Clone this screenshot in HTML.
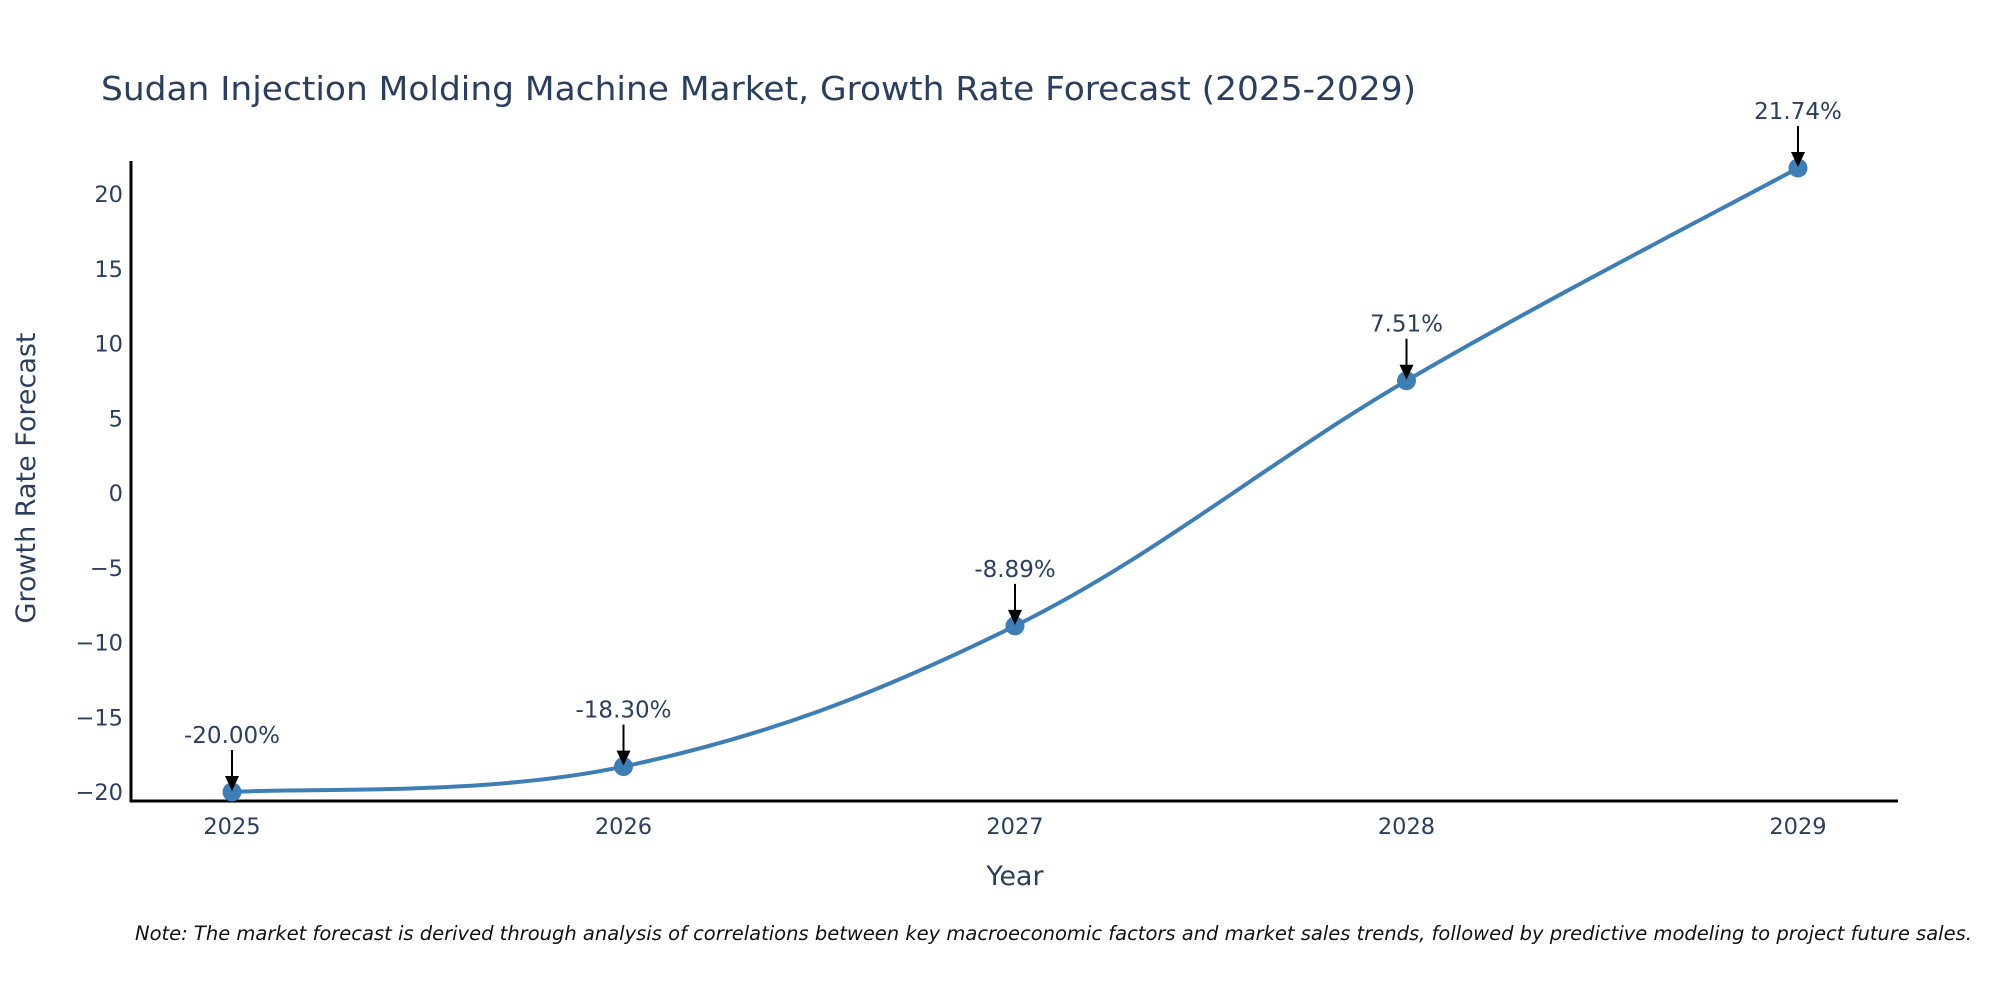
<!DOCTYPE html>
<html><head><meta charset="utf-8"><style>
html,body{margin:0;padding:0;background:#fff;}
svg{display:block;font-family:"DejaVu Sans","Liberation Sans",sans-serif;}
</style></head><body>
<svg id="chart" width="2000" height="1000" viewBox="0 0 2000 1000" xmlns="http://www.w3.org/2000/svg">
<text x="101" y="100" font-size="33" fill="#2a3f5f" textLength="1315" lengthAdjust="spacingAndGlyphs">Sudan Injection Molding Machine Market, Growth Rate Forecast (2025-2029)</text>
<line x1="131" y1="161" x2="131" y2="802" stroke="#000" stroke-width="3"/>
<line x1="130" y1="801" x2="1898" y2="801" stroke="#000" stroke-width="3"/>
<g id="yticks"></g><g id="xticks"></g>
<path id="line" fill="none" stroke="#3d7fb5" stroke-width="4"/>
<g id="points"></g><g id="annots"></g>
<text x="1015" y="885" font-size="27" fill="#2a3f5f" text-anchor="middle">Year</text>
<text x="0" y="0" font-size="27" fill="#2a3f5f" text-anchor="middle" transform="translate(35,478) rotate(-90)">Growth Rate Forecast</text>
<text x="135" y="940" font-size="19.5" font-style="italic" fill="#111">Note: The market forecast is derived through analysis of correlations between key macroeconomic factors and market sales trends, followed by predictive modeling to project future sales.</text>
</svg>
<script>
const years = [2025, 2026, 2027, 2028, 2029];
const values = [-20.00, -18.30, -8.89, 7.51, 21.74];
const labels = ["-20.00%", "-18.30%", "-8.89%", "7.51%", "21.74%"];
const yTicks = [-20, -15, -10, -5, 0, 5, 10, 15, 20];
const NS = "http://www.w3.org/2000/svg";
function xs(v){ return 232 + (v - 2025) * 391.5; }
function ys(v){ return 493 - v * 14.95; }
function mk(tag, attrs, parent){ const e = document.createElementNS(NS, tag); for (const k in attrs) e.setAttribute(k, attrs[k]); parent.appendChild(e); return e; }
const yt = document.getElementById('yticks');
yTicks.forEach(t => {
  const e = mk('text', {x: 123, y: ys(t) + 8, 'font-size': 22.5, fill: '#2a3f5f', 'text-anchor': 'end'}, yt);
  
  
  e.textContent = t < 0 ? '\u2212' + Math.abs(t) : String(t);
});
const xt = document.getElementById('xticks');
years.forEach(y => {
  const e = mk('text', {x: xs(y), y: 834, 'font-size': 22.5, fill: '#2a3f5f', 'text-anchor': 'middle'}, xt);
  
  
  e.textContent = String(y);
});
const P = years.map((y, i) => [xs(y), ys(values[i])]);
let d = 'M' + P[0][0] + ',' + P[0][1];
const s = 0.18;
for (let i = 0; i < P.length - 1; i++) {
  const p0 = P[i - 1] || P[i], p1 = P[i], p2 = P[i + 1], p3 = P[i + 2] || p2;
  const c1 = [p1[0] + (p2[0] - p0[0]) * s, p1[1] + (p2[1] - p0[1]) * s];
  const c2 = [p2[0] - (p3[0] - p1[0]) * s, p2[1] - (p3[1] - p1[1]) * s];
  d += ' C' + c1 + ' ' + c2 + ' ' + p2;
}
document.getElementById('line').setAttribute('d', d);
const pts = document.getElementById('points'), an = document.getElementById('annots');
P.forEach((p, i) => {
  const c = mk('circle', {cx: p[0], cy: p[1], r: 9.5, fill: '#3d7fb5'}, pts);
  
  
  const l = mk('line', {x1: p[0], y1: p[1] - 42, x2: p[0], y2: p[1] - 14, stroke: '#000', 'stroke-width': 2}, an);
  
  
  const h = mk('polygon', {points: (p[0]-7)+','+(p[1]-16)+' '+(p[0]+7)+','+(p[1]-16)+' '+p[0]+','+(p[1]-1), fill: '#000'}, an);
  
  
  const t = mk('text', {x: p[0], y: p[1] - 49, 'font-size': 23, fill: '#2a3f5f', 'text-anchor': 'middle'}, an);
  
  
  t.textContent = labels[i];
});
</script>
</body></html>
